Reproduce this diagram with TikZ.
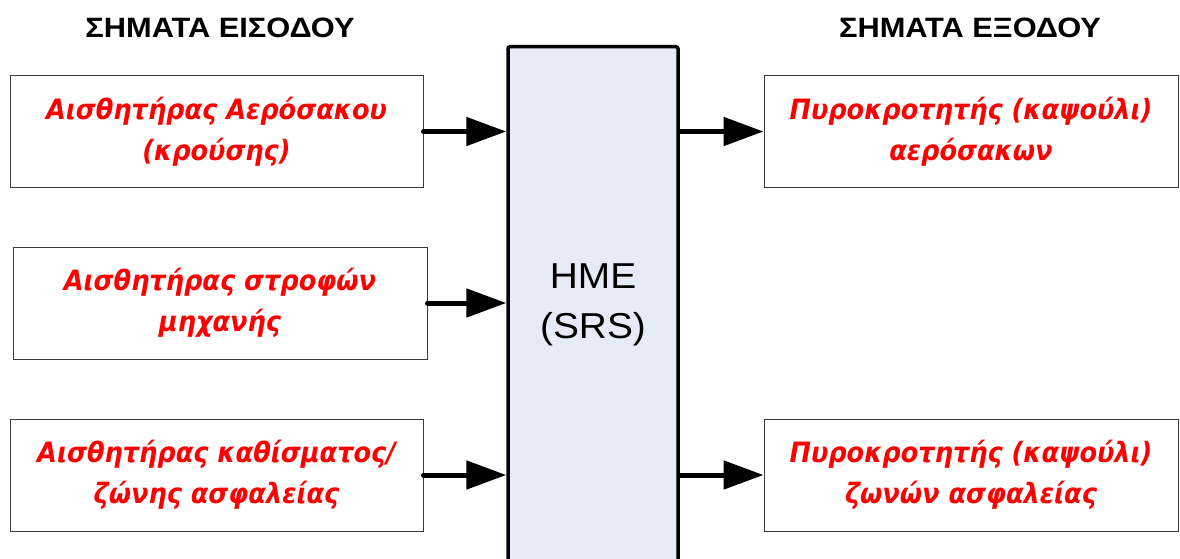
\documentclass[tikz,border=0pt]{standalone}
\usepackage{fontspec}
\setmainfont{Liberation Sans}
\newfontfamily\redfont{DejaVu Sans}[FakeStretch=0.915]
\newfontfamily\headfont{Liberation Sans}[FakeStretch=1.1]
\newfontfamily\hmefont{Liberation Sans}[FakeStretch=1.08]
\usetikzlibrary{arrows.meta}
\definecolor{hmefill}{RGB}{230,236,247}
\definecolor{boxline}{RGB}{60,60,60}
\begin{document}
\begin{tikzpicture}[x=1pt,y=-1pt,
  sigbox/.style={draw=boxline, line width=1pt, minimum height=111pt,
    inner sep=0pt, align=center, text=red,
    font=\redfont\bfseries\itshape\fontsize{28}{41}\selectfont},
  header/.style={font=\headfont\bfseries\fontsize{28}{32}\selectfont, inner sep=0pt},
  sigarrow/.style={line width=5pt, line cap=round,
    -{Triangle[length=40pt,width=28pt]}}]
\useasboundingbox (0,0) rectangle (1180,559);
\clip (0,0) rectangle (1180,559);
% headers
\node[header] (hin) at (220,28) {ΣΗΜΑΤΑ ΕΙΣΟΔΟΥ};
\node[header] (hout) at (970,28) {ΣΗΜΑΤΑ ΕΞΟΔΟΥ};
% central unit
\node[draw=black, fill=hmefill, line width=3.5pt, rounded corners=2pt,
      minimum width=170pt, minimum height=600pt, inner sep=0pt,
      anchor=north] (hme) at (593,45) {};
\node[align=center, font=\hmefont\fontsize{36}{50}\selectfont] (hmetext) at (593,305) {HME\\(SRS)};
% input boxes
\node[sigbox, minimum width=413pt] (in1) at (216.5,131.5) {Αισθητήρας Αερόσακου\\(κρούσης)};
\node[sigbox, minimum width=414pt, minimum height=112pt] (in2) at (220,303) {Αισθητήρας στροφών\\μηχανής};
\node[sigbox, minimum width=413pt, minimum height=112pt] (in3) at (216.5,475) {Αισθητήρας καθίσματος/\\ζώνης ασφαλείας};
% output boxes
\node[sigbox, minimum width=414pt] (out1) at (971,131.5) {Πυροκροτητής (καψούλι)\\αερόσακων};
\node[sigbox, minimum width=414pt, minimum height=112pt] (out2) at (971,475) {Πυροκροτητής (καψούλι)\\ζωνών ασφαλείας};
% arrows
\draw[sigarrow] (in1.east) -- (in1.east -| hme.west);
\draw[sigarrow] (in2.east) -- (in2.east -| hme.west);
\draw[sigarrow] (in3.east) -- (in3.east -| hme.west);
\draw[sigarrow] (out1.west -| hme.east) -- (out1.west);
\draw[sigarrow] (out2.west -| hme.east) -- (out2.west);
\end{tikzpicture}
\end{document}
